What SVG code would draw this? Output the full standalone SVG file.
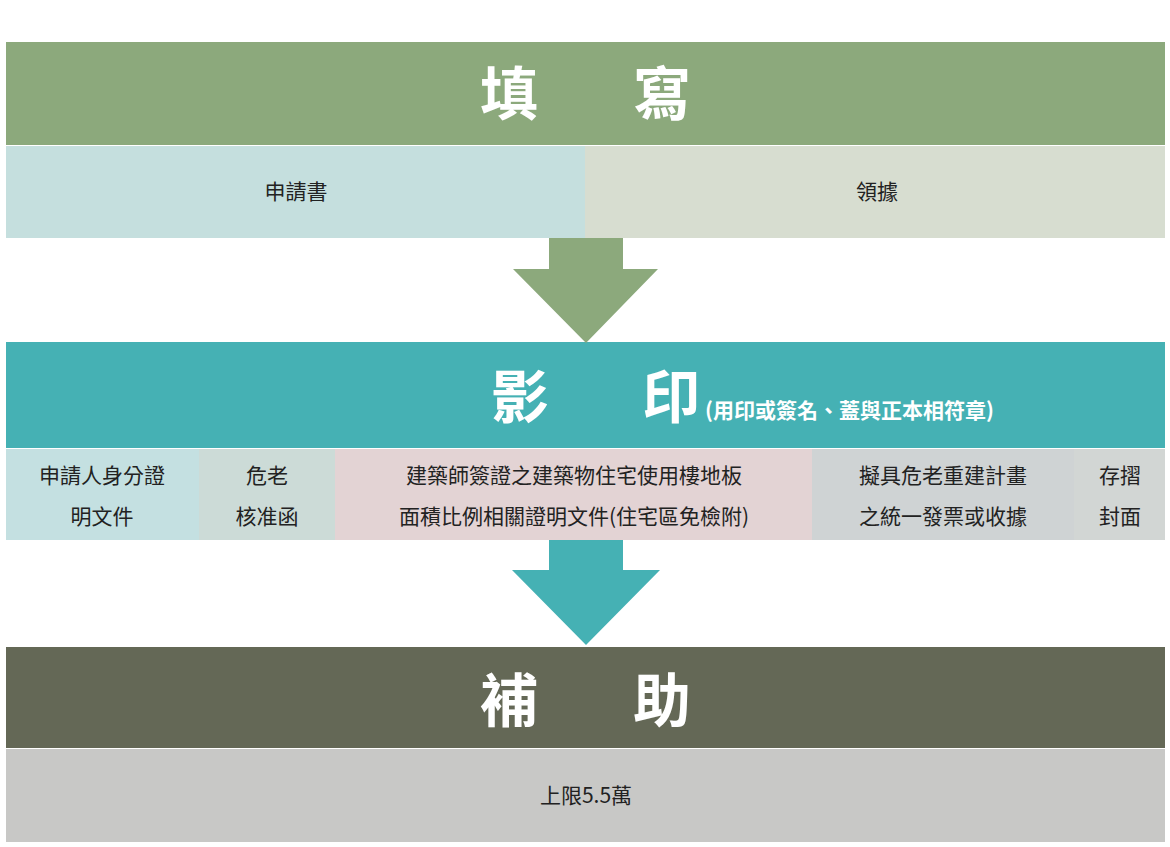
<svg xmlns="http://www.w3.org/2000/svg" width="1170" height="847" viewBox="0 0 1170 847">
<style>
.t{font-family:"Noto Sans CJK TC","Noto Sans CJK SC",sans-serif;font-weight:bold;fill:#fff;font-size:58px;text-anchor:middle}
.s{font-family:"Noto Sans CJK TC",sans-serif;font-size:21px;fill:#222;text-anchor:middle}
.sub{font-family:"Noto Sans CJK TC",sans-serif;font-weight:bold;fill:#fff;font-size:21px}
</style>
<rect width="1170" height="847" fill="#fff"/>
<g id="n-fill">
<rect x="6" y="42" width="1159" height="103" fill="#8ca97c"/>
<text class="t" x="509" y="115">填</text><text class="t" x="662" y="115">寫</text>
</g>
<g id="n-form"><rect x="6" y="146" width="579" height="92" fill="#c5dfde"/><text class="s" x="296" y="199">申請書</text></g>
<g id="n-receipt"><rect x="585" y="146" width="580" height="92" fill="#d7ddd0"/><text class="s" x="877" y="199">領據</text></g>
<g id="n-copy">
<rect x="6" y="342" width="1159" height="106" fill="#45b1b4"/>
<text class="t" x="520" y="418">影</text><text class="t" x="671" y="418">印</text>
<text class="sub" x="705" y="418">(用印或簽名、蓋與正本相符章)</text>
</g>
<g id="n-id"><rect x="6" y="449" width="193" height="91" fill="#c4e0e1"/><text class="s" x="102" y="483">申請人身分證</text><text class="s" x="102" y="524">明文件</text></g>
<g id="n-approval"><rect x="199" y="449" width="136" height="91" fill="#ccdbd7"/><text class="s" x="267" y="483">危老</text><text class="s" x="267" y="524">核准函</text></g>
<g id="n-arch"><rect x="335" y="449" width="477" height="91" fill="#e3d3d4"/><text class="s" x="574" y="483">建築師簽證之建築物住宅使用樓地板</text><text class="s" x="574" y="524">面積比例相關證明文件(住宅區免檢附)</text></g>
<g id="n-invoice"><rect x="812" y="449" width="262" height="91" fill="#cfd3d4"/><text class="s" x="943" y="483">擬具危老重建計畫</text><text class="s" x="943" y="524">之統一發票或收據</text></g>
<g id="n-cover"><rect x="1074" y="449" width="91" height="91" fill="#d2d6d4"/><text class="s" x="1120" y="483">存摺</text><text class="s" x="1120" y="524">封面</text></g>
<g id="n-subsidy">
<rect x="6" y="647" width="1159" height="101" fill="#646856"/>
<text class="t" x="509" y="722">補</text><text class="t" x="662" y="722">助</text>
</g>
<g id="n-limit"><rect x="6" y="749" width="1159" height="93" fill="#c8c8c6"/><text class="s" x="586" y="803">上限5.5萬</text></g>
<g id="connectors">
<polygon points="549,238 623,238 623,269 658,269 586,343 513,269 549,269" fill="#8ca97c"/>
<polygon points="549,540 623,540 623,570 660,570 586,645 512,570 549,570" fill="#45b1b4"/>
</g>
</svg>
